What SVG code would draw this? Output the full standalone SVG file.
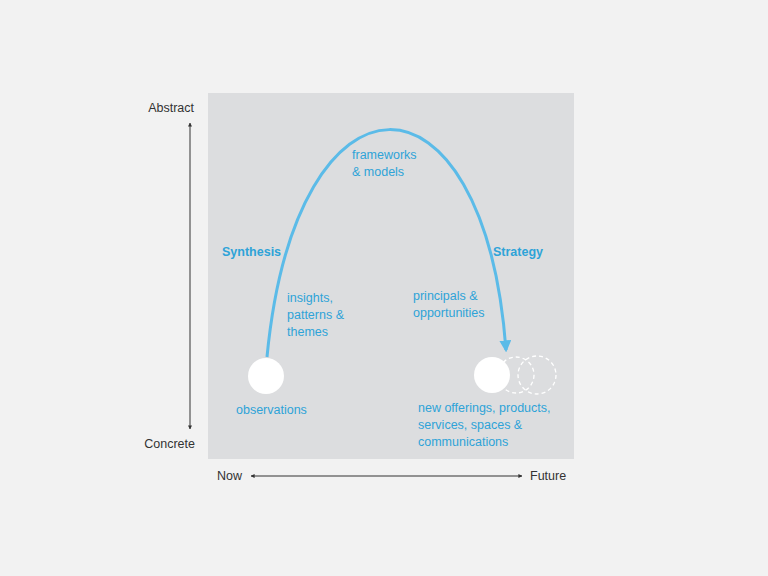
<svg xmlns="http://www.w3.org/2000/svg" width="768" height="576" viewBox="0 0 768 576">
<defs>
<style>
.t{font-family:"Liberation Sans",Arial,sans-serif;font-size:12.5px;fill:#333}
.b{font-family:"Liberation Sans",Arial,sans-serif;font-size:12.5px;fill:#2ea3d8}
.bb{font-family:"Liberation Sans",Arial,sans-serif;font-size:12.5px;font-weight:bold;fill:#2ea3d8}
.ax{stroke:#333;stroke-width:1;fill:none}
</style>
<marker id="ah" viewBox="0 0 10 10" refX="9" refY="5" markerWidth="4" markerHeight="4" orient="auto-start-reverse">
<path d="M0,0 L10,5 L0,10 z" fill="#333"/>
</marker>
<marker id="bh" viewBox="0 0 10 10" refX="8" refY="5" markerWidth="4" markerHeight="4" orient="auto">
<path d="M0,0 L10,5 L0,10 z" fill="#5bbbe8"/>
</marker>
</defs>
<rect width="768" height="576" fill="#f2f2f2"/>
<rect x="208" y="93" width="366" height="366" fill="#dcdddf"/>
<g id="axes">
<line class="ax" x1="190" y1="123" x2="190" y2="429" marker-start="url(#ah)" marker-end="url(#ah)"/>
<line class="ax" x1="251" y1="476" x2="522" y2="476" marker-start="url(#ah)" marker-end="url(#ah)"/>
<text class="t" x="194" y="112" text-anchor="end">Abstract</text>
<text class="t" x="195" y="448" text-anchor="end">Concrete</text>
<text class="t" x="217" y="480">Now</text>
<text class="t" x="530" y="480">Future</text>
</g>
<g id="connectors">
<path d="M267,357 C296,55 484,55 506,350" fill="none" stroke="#5bbbe8" stroke-width="3" marker-end="url(#bh)"/>
</g>
<g id="observations">
<circle cx="266" cy="376" r="18" fill="#fff"/>
<text class="b" x="236" y="414">observations</text>
</g>
<g id="outcomes">
<circle cx="537" cy="375" r="19" fill="none" stroke="#fff" stroke-width="1.3" stroke-dasharray="4,3"/>
<circle cx="516" cy="375" r="18" fill="none" stroke="#fff" stroke-width="1.3" stroke-dasharray="4,3"/>
<circle cx="492" cy="375" r="18" fill="#fff"/>
<text class="b" x="418" y="412">new offerings, products,</text>
<text class="b" x="418" y="429">services, spaces &amp;</text>
<text class="b" x="418" y="446">communications</text>
</g>
<g id="labels">
<text class="bb" x="222" y="256">Synthesis</text>
<text class="bb" x="493" y="256">Strategy</text>
<text class="b" x="352" y="159">frameworks</text>
<text class="b" x="352" y="176">&amp; models</text>
<text class="b" x="287" y="302">insights,</text>
<text class="b" x="287" y="319">patterns &amp;</text>
<text class="b" x="287" y="336">themes</text>
<text class="b" x="413" y="300">principals &amp;</text>
<text class="b" x="413" y="317">opportunities</text>
</g>
</svg>
